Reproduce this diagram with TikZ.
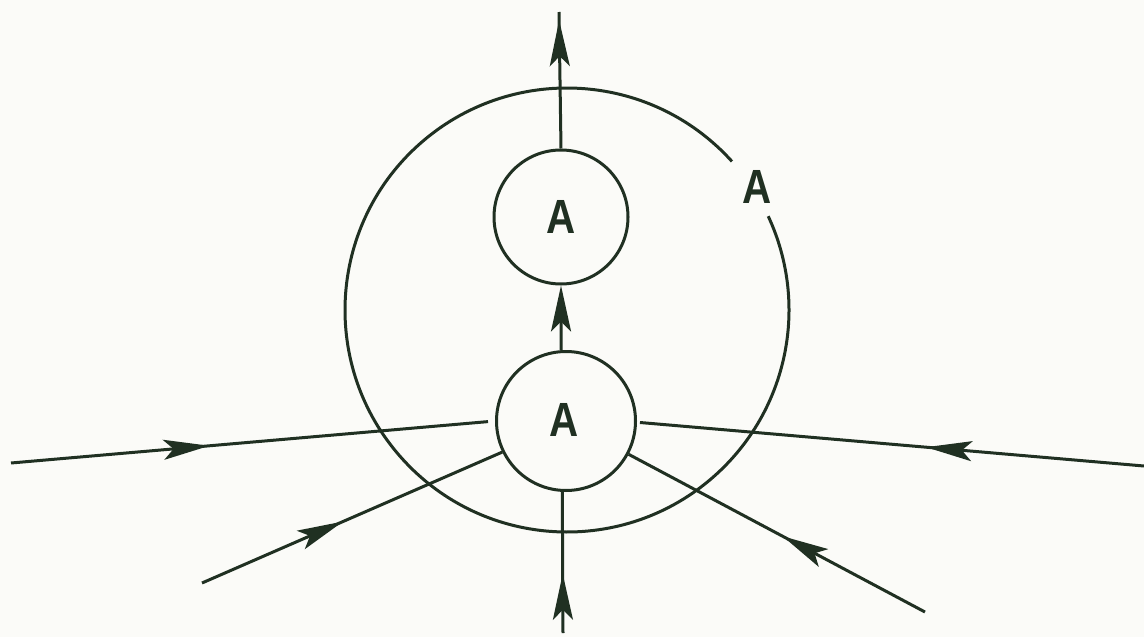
\documentclass[tikz,border=0pt]{standalone}
\usepackage{fontspec}
\newfontfamily\labfont{Liberation Sans}
\usetikzlibrary{arrows.meta,decorations.markings}
\definecolor{ink}{RGB}{32,48,34}
\definecolor{paper}{RGB}{251,251,248}
\begin{document}
\begin{tikzpicture}[x=1pt,y=-1pt,
  inkline/.style={draw=ink,line width=3pt},
  circ/.style={circle,draw=ink,line width=3pt,inner sep=0pt,minimum size=139pt},
  lab/.style={text=ink,inner sep=0pt,font=\labfont\bfseries\fontsize{48}{48}\selectfont},
  >={Stealth[length=46pt,width=20pt,inset=10pt]},
  midarrow/.style={postaction={decorate,decoration={markings,mark=at position #1 with {\arrow{>}}}}}]
\fill[paper] (0,0) rectangle (1144,637);
\useasboundingbox (0,0) rectangle (1144,637);
% big circle with gap
\coordinate (O) at (567,310);
\draw[inkline] (O) ++(-42:222) arc[start angle=-42,end angle=-385,radius=222];
% inner circles
\node[circ,minimum size=134pt] (t) at (561,217) {};
\node[circ] (b) at (566,421) {};
\node[lab] (tA) at (t) {\scalebox{0.84}[1]{A}};
\node[lab] (bA) at (564,420) {\scalebox{0.84}[1]{A}};
\node[lab] (oA) at (757,187) {\scalebox{0.84}[1]{A}};
% free ends
\coordinate (T) at (559,12);
\coordinate (L) at (11,463);
\coordinate (R) at (1144,466);
\coordinate (LL) at (202,583);
\coordinate (LR) at (925,612);
\coordinate (B) at (563,633);
% connectors
\draw[inkline,midarrow=0.94] (t.north) -- (T);
\draw[inkline,->] (b.94) -- (t.south);
\draw[inkline,midarrow=0.41,shorten >=7pt] (L) -- (b.180);
\draw[inkline,midarrow=0.43,shorten >=3pt] (R) -- (b.359);
\draw[inkline,midarrow=0.47] (LL) -- (b.206);
\draw[inkline,midarrow=0.48] (LR) -- (b.332);
\draw[inkline,midarrow=0.42] (B) -- (b.267);
\end{tikzpicture}
\end{document}
